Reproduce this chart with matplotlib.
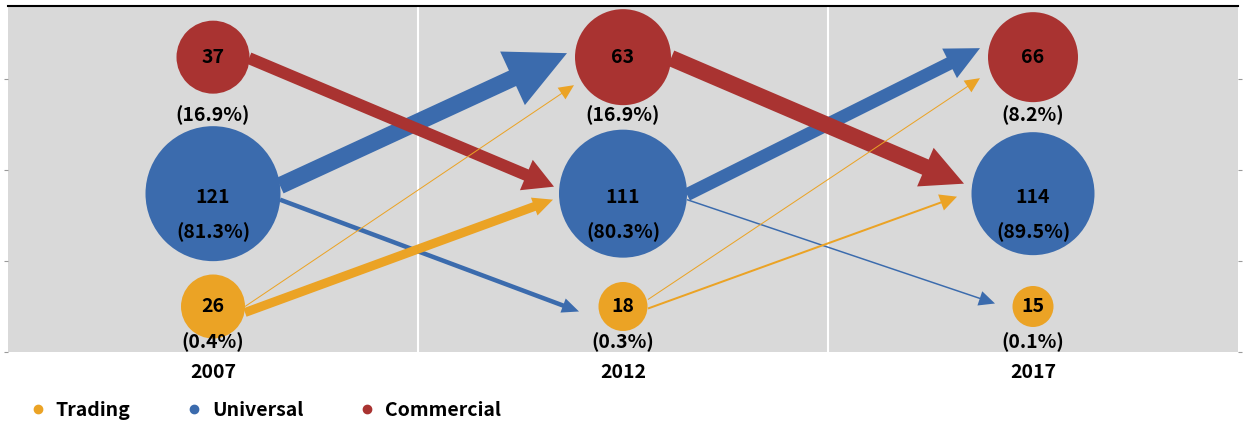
import matplotlib.pyplot as plt
from matplotlib.patches import FancyArrowPatch, ArrowStyle
from matplotlib.lines import Line2D

plt.rcParams['font.family'] = ['Noto Sans CJK KR', 'DejaVu Sans']
plt.rcParams['font.weight'] = 'bold'

years = ['2007', '2012', '2017']
segments = ['Trading', 'Universal', 'Commercial']

trading_count = [26, 18, 15]
universal_count = [121, 111, 114]
commercial_count = [37, 63, 66]

trading_share = [0.4, 0.3, 0.1]
universal_share = [81.3, 80.3, 89.5]
commercial_share = [16.9, 16.9, 8.2]

# transitions between consecutive periods: (from year index, from segment, to segment)
flows = [
    (0, 'Universal', 'Commercial'),
    (0, 'Universal', 'Trading'),
    (0, 'Commercial', 'Universal'),
    (0, 'Trading', 'Commercial'),
    (0, 'Trading', 'Universal'),
    (1, 'Universal', 'Commercial'),
    (1, 'Universal', 'Trading'),
    (1, 'Commercial', 'Universal'),
    (1, 'Trading', 'Commercial'),
    (1, 'Trading', 'Universal'),
]

counts = {'Trading': trading_count, 'Universal': universal_count, 'Commercial': commercial_count}
shares = {'Trading': trading_share, 'Universal': universal_share, 'Commercial': commercial_share}

colors = {'Trading': '#EBA325', 'Universal': '#3B6BAD', 'Commercial': '#A93331'}
row_y = {'Trading': 0.5, 'Universal': 1.74, 'Commercial': 3.24}
# bubble diameters (px)
diam = {'Trading': [64, 49, 41], 'Universal': [135, 128, 123], 'Commercial': [73, 96, 90]}
# label offsets below the bubble centre (px): number, share
label_off = {'Trading': (0, 36), 'Universal': (4, 39), 'Commercial': (0, 58)}

# arrow look: shaft width, head length, head width (px)
flow_style = [(17, 60, 59), (4.5, 17, 15), (12, 30, 33), (1, 15, 14), (9, 20, 19),
              (13, 34, 33), (1.5, 16, 15), (16.5, 42, 42), (1, 15, 14), (2, 17, 17)]
# where each arrow leaves the source and ends near the target, offsets from centres (px, y down)
flow_ports = [((67, -8), (-56, -4)), ((67, 6), (-44, 5)), ((36, 1), (-69, -7)),
              ((32, 0), (-49, 28)), ((32, 6), (-70, 6)), ((64, 1), (-53, -9)),
              ((64, 6), (-38, -3)), ((48, 1), (-69, -10)), ((25, -7), (-53, 21)),
              ((25, 2), (-76, 3))]

W, H = 1248, 426
fig = plt.figure(figsize=(W / 100, H / 100), dpi=100)
ax = fig.add_axes([8 / W, (H - 352) / H, 1230 / W, 346 / H])
ax.set_facecolor('#D9D9D9')
ax.set_xlim(0, 3)
ax.set_ylim(0, 346 / 91)
px_x = 3 / 1230
px_y = (346 / 91) / 346
PT = 0.72  # points per pixel
FS = 14

for gx in (1, 2):
    ax.axvline(gx, color='white', lw=1.5, zorder=1)

# flows drawn blue first, then red, then orange
order = ['Universal', 'Commercial', 'Trading']
idx = sorted(range(len(flows)), key=lambda i: order.index(flows[i][1]))
for i in idx:
    yi, src, dst = flows[i]
    tw, hl, hw = flow_style[i]
    (tx, ty), (hx, hy) = flow_ports[i]
    start = (yi + 0.5 + tx * px_x, row_y[src] - ty * px_y)
    end = (yi + 1.5 + hx * px_x, row_y[dst] - hy * px_y)
    style = ArrowStyle.Simple(head_length=hl * PT, head_width=hw * PT, tail_width=tw * PT)
    ax.add_patch(FancyArrowPatch(start, end, arrowstyle=style, mutation_scale=1,
                                 color=colors[src], lw=0, shrinkA=0, shrinkB=0, zorder=2))

for seg in segments:
    xs = [i + 0.5 for i in range(len(years))]
    ys = [row_y[seg]] * len(years)
    ax.scatter(xs, ys, s=[(d * PT) ** 2 for d in diam[seg]], color=colors[seg],
               linewidths=0, zorder=3)
    n_off, s_off = label_off[seg]
    for x, n, sh in zip(xs, counts[seg], shares[seg]):
        ax.text(x, row_y[seg] - n_off * px_y, f'{n}', ha='center', va='center',
                fontsize=FS, zorder=4)
        ax.text(x, row_y[seg] - s_off * px_y, f'({sh}%)', ha='center', va='center',
                fontsize=FS, zorder=4)

ax.set_xticks([i + 0.5 for i in range(len(years))])
ax.set_xticklabels(years, fontsize=FS)
ax.tick_params(axis='x', length=0, pad=8)
ax.set_yticks([0, 1, 2, 3])
ax.tick_params(axis='y', left=True, right=True, length=3, color='#9a9a9a', labelleft=False)
for side in ('left', 'right', 'bottom'):
    ax.spines[side].set_visible(False)
ax.spines['top'].set_color('black')
ax.spines['top'].set_linewidth(1.5)

handles = [Line2D([], [], marker='o', ls='', color=colors[s], markersize=6) for s in segments]
fig.legend(handles, segments, loc='center left', bbox_to_anchor=(30 / W, 1 - 410 / H),
           ncol=3, frameon=False, fontsize=FS, handlelength=0.8, handletextpad=0.5,
           columnspacing=2.9, borderpad=0, borderaxespad=0)

fig.savefig('out.png', dpi=100)
